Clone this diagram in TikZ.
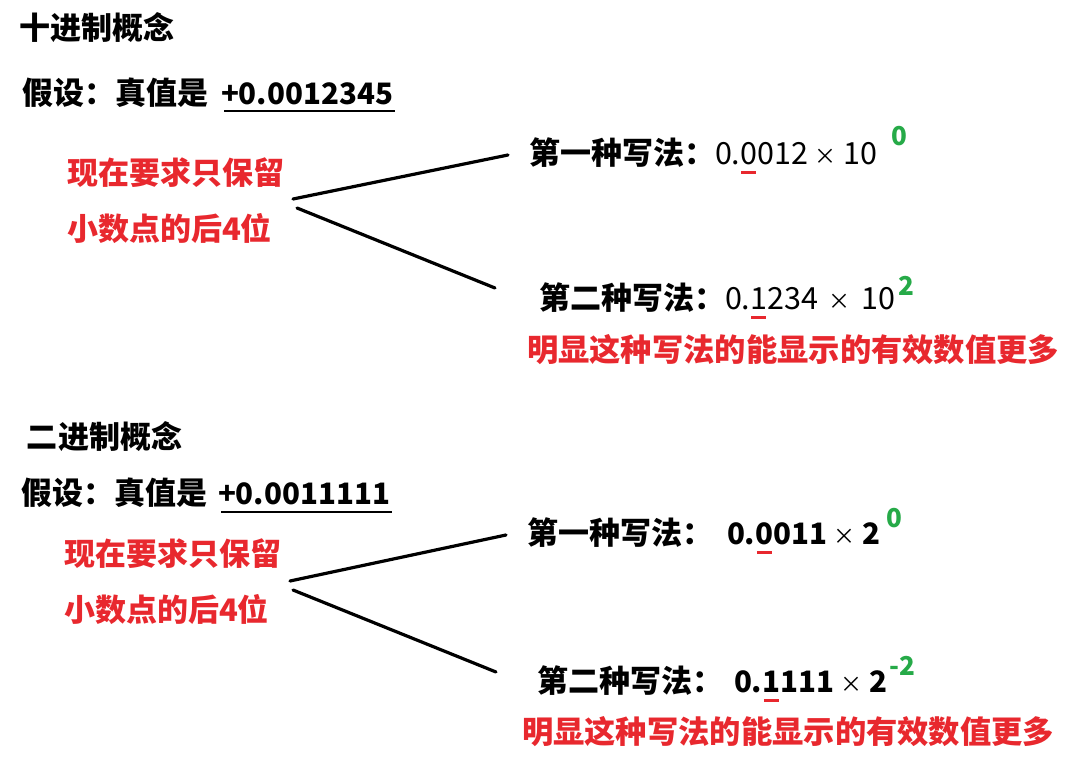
\documentclass[tikz,border=0pt]{standalone}
\usepackage{fontspec}
\setmainfont{Noto Sans CJK SC}
\definecolor{mred}{RGB}{232,40,46}
\definecolor{mgreen}{RGB}{38,170,72}
\newcommand\rmark[1]{\setbox0\hbox{#1}\rlap{\hbox to \wd0{\hss\textcolor{mred}{\rule[-10pt]{15pt}{3.2pt}}\hss}}#1}
\newcommand\tms{{\fontsize{22}{22}\selectfont\mdseries ×}}
\begin{document}
\begin{tikzpicture}[x=1pt,y=-1pt,
  txt/.style={anchor=base west,inner sep=0pt,outer sep=0pt},
  blk/.style={txt,font=\fontsize{31}{31}\selectfont\bfseries},
  rtxt/.style={txt,text=mred,font=\fontsize{31}{31}\selectfont\bfseries},
  rbig/.style={txt,text=mred,font=\fontsize{31.3}{31.3}\selectfont\bfseries},
  num/.style={txt,font=\fontsize{30.5}{30.5}\selectfont},
  numb/.style={txt,font=\fontsize{29.5}{29.5}\selectfont\bfseries},
  supg/.style={txt,text=mgreen,font=\fontsize{26}{26}\selectfont\bfseries},
  conn/.style={line width=3.2pt,line cap=round},
  uline/.style={line width=2.8pt}]
\useasboundingbox (0,0) rectangle (1075,768);
% ---------- decimal ----------
\node[blk] (h1) at (19,40) {十进制概念};
\node[blk] (a1) at (22,104) {假设：真值是};
\node[numb,anchor=base west] (v1) at ([xshift=13pt]a1.base east) {+0.0012345};
\draw[uline] ([xshift=3pt,yshift=-7pt]v1.base west) -- ([xshift=2pt,yshift=-7pt]v1.base east);
\node[rtxt] (r1) at (67,184) {现在要求只保留};
\node[rtxt] (r2) at (67,240) {小数点的后4位};
\coordinate (p1) at (293,199);
\coordinate (p2) at (297,208);
\coordinate (q1) at (508,155);
\coordinate (q2) at (495,288);
\draw[conn] (p1) -- (q1);
\draw[conn] (p2) -- (q2);
\node[blk] (l1) at (529,164) {第一种写法：};
\node[num] (f1) at (l1.base east) {0.\rmark{0}012 \tms{} 10};
\node[supg] (s1) at ([xshift=14pt,yshift=19pt]f1.base east) {0};
\node[blk] (l2) at (539,309) {第二种写法：};
\node[num] (f2) at (l2.base east) {0.\rmark{1}234\hspace{4pt} \tms{}\hspace{4pt} 10};
\node[supg] (s2) at ([xshift=3pt,yshift=14pt]f2.base east) {2};
\node[rbig] (m1) at (527,361) {明显这种写法的能显示的有效数值更多};
% ---------- binary ----------
\node[blk] (h2) at (27,448) {二进制概念};
\node[blk] (a2) at (21,504) {假设：真值是};
\node[numb,anchor=base west] (v2) at ([xshift=11pt]a2.base east) {+0.0011111};
\draw[uline] ([xshift=3pt,yshift=-8pt]v2.base west) -- ([xshift=2pt,yshift=-8pt]v2.base east);
\node[rtxt] (r3) at (64,565) {现在要求只保留};
\node[rtxt] (r4) at (64,621) {小数点的后4位};
\coordinate (p3) at (290,581);
\coordinate (p4) at (293,590);
\coordinate (q3) at (506,535);
\coordinate (q4) at (496,672);
\draw[conn] (p3) -- (q3);
\draw[conn] (p4) -- (q4);
\node[blk] (l3) at (527,544) {第一种写法：};
\node[numb] (f3) at ([xshift=14pt]l3.base east) {0.\rmark{0}011 \tms{} 2};
\node[supg] (s3) at ([xshift=6pt,yshift=17pt]f3.base east) {0};
\node[blk] (l4) at (537,692) {第二种写法：};
\node[numb] (f4) at ([xshift=11pt]l4.base east) {0.\rmark{1}111 \tms{} 2};
\node[supg] (s4) at ([xshift=2pt,yshift=17pt]f4.base east) {-2};
\node[rbig] (m2) at (522,743) {明显这种写法的能显示的有效数值更多};
\end{tikzpicture}
\end{document}
